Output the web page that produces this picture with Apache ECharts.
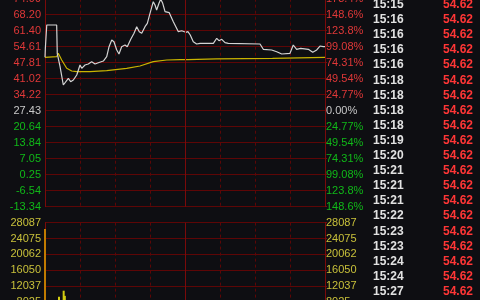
<!DOCTYPE html>
<html><head><meta charset="utf-8">
<script src="https://cdn.jsdelivr.net/npm/echarts@6/dist/echarts.min.js"></script>
<style>html,body{margin:0;padding:0;background:#0e0e12;}#c{width:480px;height:300px;}</style>
</head><body><div id="c"></div><script>
// ---- data ----
const prevClose = 27.43;
const priceStep = 6.7944;
const volStep = 4012.43;
const priceTickLabels = ['-13.34','-6.54','0.25','7.05','13.84','20.64','27.43','34.22','41.02','47.81','54.61','61.40','68.20','74.99'];
const pctTickLabels = ['148.6%','123.8%','99.08%','74.31%','49.54%','24.77%','0.00%','24.77%','49.54%','74.31%','99.08%','123.8%','148.6%','173.4%'];
const volTickLabels = ['0','4012','8025','12037','16050','20062','24075','28087'];

const priceMinutes = [0,0.3,1.5,10,10.5,12.9,15.7,17.1,20,22,24.3,27.2,30,31.5,34.3,37.1,40,42.9,45.7,50,52.9,54.9,57.2,59.1,61.5,63.4,65.7,68.6,70.5,73.5,76.3,78.6,80.8,82.9,85.7,87.7,90,92.8,94.3,95.7,97.7,99.2,100.9,102.9,106.5,110,114.3,117.2,120.6,122.5,124.5,127.1,130,132.9,144.3,147.2,149.1,151.5,154.3,157.1,184.3,187.1,194.3,198.6,202.9,210,212.8,215.7,219.2,225.7,229.5,232.9,235.7,238.5,240];
const priceValues  = [50.11,53.93,63.82,63.82,51.80,46.11,38.34,39.07,41.19,39.75,40.47,42.59,46.84,45.43,46.84,47.26,48.24,47.26,47.81,48.53,50.36,54.61,57.45,56.73,53.21,51.51,54.61,55.33,54.61,57.75,60.30,63.10,60.98,60.30,63.10,64.54,68.79,73.72,72.32,70.19,73.04,74.80,73.04,69.47,69.05,65.22,60.98,61.40,60.72,60.98,59.58,56.73,55.75,56.05,56.05,58.18,57.16,57.75,56.31,56.05,55.75,53.50,53.21,52.48,51.51,51.80,55.33,53.50,53.93,53.50,52.23,53.21,54.90,54.61,54.62];

const avgMinutes = [0,10,11.4,14.3,18.6,22.9,27.2,38.6,52.9,70,81.4,92.8,104.3,115.7,122.6,124.3,147,147.5,195,195.7,240];
const avgValues  = [50.11,50.36,51.80,48.96,45.43,44.29,43.99,43.99,44.42,45.43,46.41,48.24,48.96,49.10,49.10,49.40,49.40,49.68,49.68,50.11,50.11];

const volMinutes = [0,12,16,17];
const volValues  = [26500,9400,10900,9600];

const tradeTimes  = ['15:15','15:16','15:16','15:16','15:16','15:18','15:18','15:18','15:18','15:19','15:20','15:21','15:21','15:21','15:22','15:23','15:23','15:24','15:24','15:27'];
const tradePrices = ['54.62','54.62','54.62','54.62','54.62','54.62','54.62','54.62','54.62','54.62','54.62','54.62','54.62','54.62','54.62','54.62','54.62','54.62','54.62','54.62'];

// ---- styles ----
const BG = '#0e0e12';
const GRID_RED = '#5e0606';
const BORDER_RED = '#7a0a0a';
const RED = '#e03838';
const GREEN = '#10b818';
const WHITE = '#c8c8c8';
const YEL = '#c8c03a';
const FONT = 'Arial, "Liberation Sans", sans-serif';

const norm = p => (p - prevClose) / priceStep;
const priceData = priceMinutes.map((m, i) => [m, norm(priceValues[i])]);
const avgData = avgMinutes.map((m, i) => [m, norm(avgValues[i])]);
const volData = volMinutes.map((m, i) => ({value: [m, volValues[i] / volStep], itemStyle: {color: i === 0 ? '#c07a00' : '#d2cc10'}}));

const colorFor = v => { v = Number(v); return v > 0.01 ? RED : (v < -0.01 ? GREEN : WHITE); };

const xCommon = {
  type: 'value', min: 0, max: 240, interval: 30,
  axisLine: {show: false}, axisTick: {show: false}, axisLabel: {show: false},
  splitLine: {show: true, lineStyle: {color: GRID_RED, type: [3, 3], width: 1}}
};
const ySplit = {show: true, lineStyle: {color: GRID_RED, width: 1, type: 'solid'}};

const graphics = [];
tradeTimes.forEach((t, i) => {
  const y = 4.7 + 15.1 * i;
  graphics.push({type: 'text', x: 373, y: y, silent: true,
    style: {text: t, fill: '#e2e2e2', font: 'bold 12px ' + FONT, align: 'left', verticalAlign: 'middle'}});
  graphics.push({type: 'text', x: 473, y: y, silent: true,
    style: {text: tradePrices[i], fill: '#ff3636', font: 'bold 12px ' + FONT, align: 'right', verticalAlign: 'middle'}});
});

const chart = echarts.init(document.getElementById('c'), null, {renderer: 'canvas'});
chart.setOption({
  backgroundColor: BG,
  animation: false,
  grid: [
    {left: 45, width: 280, top: -1.3, height: 208, containLabel: false, outerBoundsMode: 'none'},
    {left: 45, width: 280, top: 222.6, height: 111.3, containLabel: false, outerBoundsMode: 'none'}
  ],
  xAxis: [
    Object.assign({gridIndex: 0}, xCommon),
    Object.assign({gridIndex: 1}, xCommon)
  ],
  yAxis: [
    {gridIndex: 0, type: 'value', position: 'left', min: -6, max: 7, interval: 1,
     axisLine: {show: true, lineStyle: {color: BORDER_RED}}, axisTick: {show: false},
     splitLine: ySplit,
     axisLabel: {margin: 4, fontSize: 11, fontFamily: FONT, hideOverlap: false,
       formatter: v => priceTickLabels[Math.round(v) + 6], color: colorFor}},
    {gridIndex: 0, type: 'value', position: 'right', min: -6, max: 7, interval: 1,
     axisLine: {show: true, lineStyle: {color: BORDER_RED}},
     axisTick: {show: true, length: 2, lineStyle: {color: BORDER_RED}},
     splitLine: {show: false},
     axisLabel: {margin: 1, fontSize: 11, fontFamily: FONT, hideOverlap: false,
       formatter: v => pctTickLabels[Math.round(v) + 6], color: colorFor}},
    {gridIndex: 1, type: 'value', position: 'left', min: 0, max: 7, interval: 1,
     axisLine: {show: true, lineStyle: {color: BORDER_RED}}, axisTick: {show: false},
     splitLine: ySplit,
     axisLabel: {margin: 4, fontSize: 11, fontFamily: FONT, color: YEL, hideOverlap: false,
       formatter: v => volTickLabels[Math.round(v)]}},
    {gridIndex: 1, type: 'value', position: 'right', min: 0, max: 7, interval: 1,
     axisLine: {show: true, lineStyle: {color: BORDER_RED}},
     axisTick: {show: true, length: 2, lineStyle: {color: BORDER_RED}},
     splitLine: {show: false},
     axisLabel: {margin: 1, fontSize: 11, fontFamily: FONT, color: YEL, hideOverlap: false,
       formatter: v => volTickLabels[Math.round(v)]}}
  ],
  series: [
    {type: 'line', xAxisIndex: 0, yAxisIndex: 0, data: avgData, showSymbol: false, symbol: 'none',
     lineStyle: {color: '#c9b400', width: 1.2}, z: 3,
     markLine: {silent: true, symbol: 'none', label: {show: false},
       lineStyle: {color: BORDER_RED, type: 'solid', width: 1}, data: [{xAxis: 120}]}},
    {type: 'line', xAxisIndex: 0, yAxisIndex: 0, data: priceData, showSymbol: false, symbol: 'none',
     lineStyle: {color: '#d4d4d4', width: 1.2}, z: 4},
    {type: 'bar', xAxisIndex: 1, yAxisIndex: 2, data: volData, barWidth: 2, z: 3,
     markLine: {silent: true, symbol: 'none', label: {show: false},
       lineStyle: {color: BORDER_RED, type: 'solid', width: 1}, data: [{xAxis: 120}]}}
  ],
  graphic: graphics
});
</script></body></html>
